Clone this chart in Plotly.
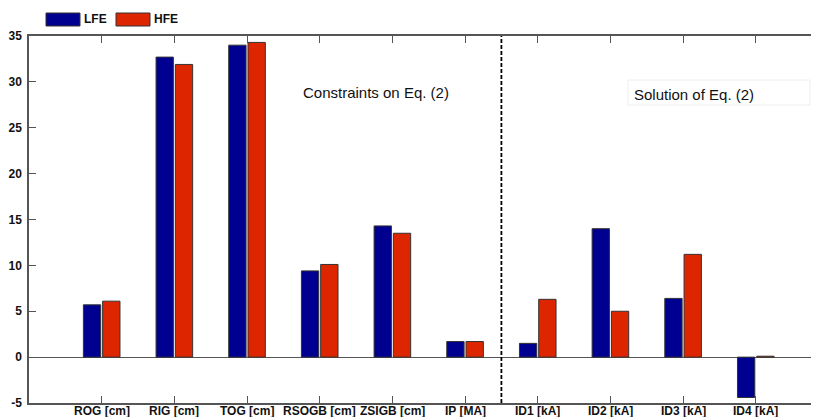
import plotly.graph_objects as go

categories = ["ROG [cm]", "RIG [cm]", "TOG [cm]", "RSOGB [cm]", "ZSIGB [cm]",
              "IP [MA]", "ID1 [kA]", "ID2 [kA]", "ID3 [kA]", "ID4 [kA]"]
lfe = [5.7, 32.7, 34.0, 9.4, 14.3, 1.7, 1.5, 14.0, 6.4, -4.4]
hfe = [6.1, 31.9, 34.3, 10.1, 13.5, 1.7, 6.3, 5.0, 11.2, 0.1]
series_names = ["LFE", "HFE"]
y_ticks = [-5, 0, 5, 10, 15, 20, 25, 30, 35]

# page body has an 8px margin, so the figure is drawn offset by (8, 8)
OFF = 8
W, H = 819 - OFF, 417 - OFF
L, R, T, B = 29 - OFF, 0, 36 - OFF, 417 - 403
pw, ph = W - L - R, H - T - B

def px(x):
    return (x - OFF - L) / pw

def py(y):
    return (H - B - (y - OFF)) / ph

BLUE = "#000090"
RED = "#DD2600"
EDGE = "#333333"
FAM = "Liberation Sans, Arial, sans-serif"

fig = go.Figure()
fig.add_trace(go.Bar(x=categories, y=lfe, name=series_names[0],
                     marker=dict(color=BLUE, line=dict(color=EDGE, width=1))))
fig.add_trace(go.Bar(x=categories, y=hfe, name=series_names[1],
                     marker=dict(color=RED, line=dict(color=EDGE, width=1))))

fig.update_layout(
    width=W, height=H,
    margin=dict(l=L, r=R, t=T, b=B, pad=0, autoexpand=False),
    plot_bgcolor="white", paper_bgcolor="white",
    barmode="group", bargap=0.47, bargroupgap=0.1,
    showlegend=False,
    font=dict(family=FAM),
)
fig.update_xaxes(
    type="category", range=[-1, 9.87], automargin=False,
    showticklabels=False,
    showline=True, linecolor="#555", linewidth=1.5, mirror="ticks",
    ticks="inside", ticklen=7, tickcolor="#555",
    showgrid=False,
)
fig.update_yaxes(
    range=[-5, 35], tickvals=y_ticks, ticktext=["<b>%d</b>" % v for v in y_ticks],
    automargin=False,
    showline=True, linecolor="#555", linewidth=1.5, mirror="ticks",
    ticks="inside", ticklen=7, tickcolor="#555",
    showgrid=False, zeroline=True, zerolinecolor="#555", zerolinewidth=1,
    tickfont=dict(family=FAM, size=12, color="#111"),
    ticklabelstandoff=3,
)

# category labels placed just below the axis
for c in categories:
    fig.add_annotation(xref="x", yref="paper", x=c, y=py(410.5),
                       text="<b>%s</b>" % c, showarrow=False,
                       xanchor="center", yanchor="middle",
                       font=dict(family=FAM, size=12, color="#111"))

# dashed separator between constraints and solution
fig.add_shape(type="line", xref="x", yref="paper", x0=5.5, x1=5.5, y0=0, y1=1,
              line=dict(color="black", width=1.8, dash="4px,2px"))

# custom legend
for x0, col, name in [(46, BLUE, series_names[0]), (116, RED, series_names[1])]:
    fig.add_shape(type="rect", xref="paper", yref="paper",
                  x0=px(x0), x1=px(x0 + 34), y0=py(26), y1=py(13),
                  fillcolor=col, line=dict(color=EDGE, width=1))
    fig.add_annotation(xref="paper", yref="paper", x=px(x0 + 36), y=py(19.5),
                       text="<b>%s</b>" % name, showarrow=False,
                       xanchor="left", yanchor="middle",
                       font=dict(family=FAM, size=12, color="#111"))

fig.add_annotation(xref="paper", yref="paper", x=px(376), y=py(93),
                   text="Constraints on Eq. (2)", showarrow=False,
                   xanchor="center", yanchor="middle",
                   font=dict(family=FAM, size=15, color="#111"))
fig.add_shape(type="rect", xref="paper", yref="paper",
              x0=px(628), x1=px(810), y0=py(105), y1=py(80),
              fillcolor="white", line=dict(color="#eeeeee", width=1))
fig.add_annotation(xref="paper", yref="paper", x=px(694), y=py(94),
                   text="Solution of Eq. (2)", showarrow=False,
                   xanchor="center", yanchor="middle",
                   font=dict(family=FAM, size=15, color="#111"))

fig.write_html("out.html")
